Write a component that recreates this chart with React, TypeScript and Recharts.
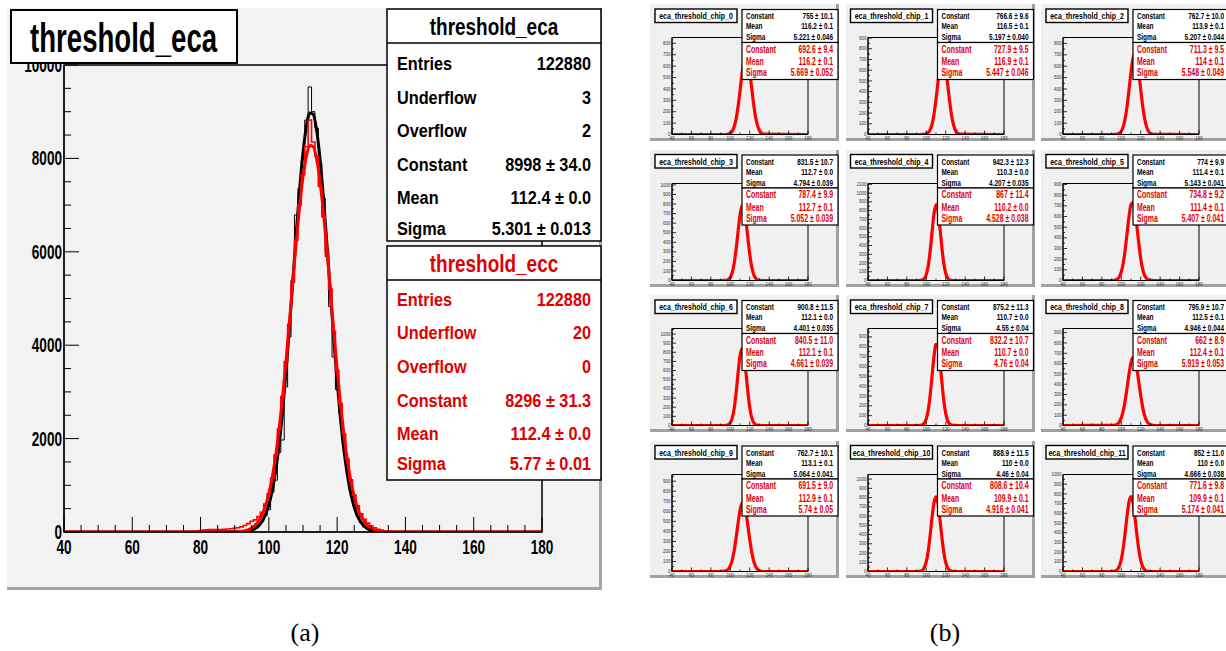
import React from "react";
import { LineChart, Line, XAxis, YAxis, ReferenceArea } from "recharts";

const FONT = "'Liberation Sans', Arial, Helvetica, sans-serif";
const RED = "#ff0000";
const RED_TEXT = "#e00000";

// ---------------- (a) threshold_eca / threshold_ecc ----------------
const HIST_X = [
  40,
  74, 75, 76, 77, 78, 79, 80, 81, 82, 83,
  84, 85, 86, 87, 88, 89, 90, 91, 92, 93,
  94, 95, 96, 97, 98, 99, 100, 101, 102, 103,
  104, 105, 106, 107, 108, 109, 110, 111, 112, 113,
  114, 115, 116, 117, 118, 119, 120, 121, 122, 123,
  124, 125, 126, 127, 128, 129, 130, 131, 132, 133,
  134, 135, 136, 137,
  180,
];
const ECA_COUNTS = [
  0,
  0, 0, 2, 4, 5, 8, 10, 12, 12, 15,
  15, 15, 18, 18, 20, 20, 22, 25, 28, 32,
  40, 55, 80, 140, 230, 350, 480, 850, 1110, 1700,
  1970, 3110, 4180, 5400, 6790, 7350, 7970, 8820, 9530, 9000,
  8650, 7900, 7150, 5900, 4830, 3750, 3050, 2540, 1900, 1330,
  900, 560, 340, 200, 110, 60, 30, 15, 8, 4,
  2, 0, 0, 0,
  0,
];
const ECC_COUNTS = [
  0,
  0, 5, 8, 10, 15, 20, 30, 40, 45, 50,
  55, 50, 55, 60, 65, 70, 80, 90, 110, 140,
  180, 230, 260, 330, 420, 600, 820, 1150, 1650, 2200,
  2900, 3650, 4450, 5350, 6250, 7000, 7650, 8250, 8820, 8350,
  8050, 7400, 6750, 6000, 5200, 4300, 3450, 2750, 2100, 1560,
  1120, 790, 560, 390, 270, 190, 130, 90, 60, 40,
  25, 15, 8, 0,
  0,
];
const FIT_X = [
  40, 86, 88, 90, 92, 93,
  94, 95, 96, 97, 98, 99, 100, 101, 102, 103,
  104, 105, 106, 107, 108, 109, 110, 111, 112, 113,
  114, 115, 116, 117, 118, 119, 120, 121, 122, 123,
  124, 125, 126, 127, 128, 129, 130, 131, 132, 133,
  134, 136, 138, 180,
];
const ECA_FIT = [
  0, 0, 0, 1, 5, 11,
  22, 41, 75, 132, 225, 369, 583, 891, 1313, 1868,
  2564, 3396, 4342, 5356, 6376, 7325, 8122, 8690, 8972, 8941,
  8598, 7979, 7146, 6175, 5150, 4145, 3220, 2413, 1746, 1218,
  821, 534, 335, 203, 119, 67, 36, 19, 10, 5,
  2, 0, 0, 0,
];
const ECC_FIT = [
  0, 0, 1, 4, 16, 29,
  51, 88, 146, 236, 368, 559, 824, 1178, 1634, 2201,
  2875, 3645, 4485, 5354, 6203, 6974, 7608, 8055, 8276, 8251,
  7983, 7495, 6829, 6037, 5180, 4313, 3484, 2732, 2079, 1535,
  1099, 764, 516, 338, 215, 132, 79, 46, 26, 14,
  7, 2, 0, 0,
];
const MAIN_X_TICKS = [
  40, 45, 50, 55, 60, 65, 70, 75, 80, 85, 90, 95, 100, 105, 110, 115, 120,
  125, 130, 135, 140, 145, 150, 155, 160, 165, 170, 175, 180,
];
const MAIN_Y_TICKS = [
  0, 500, 1000, 1500, 2000, 2500, 3000, 3500, 4000, 4500, 5000, 5500, 6000,
  6500, 7000, 7500, 8000, 8500, 9000, 9500, 10000,
];
const ECA_LABELS = ["Entries", "Underflow", "Overflow", "Constant", "Mean", "Sigma"];
const ECA_VALUES = ["122880", "3", "2", "8998 \u00b1 34.0", "112.4 \u00b1 0.0", "5.301 \u00b1 0.013"];
const ECC_VALUES = ["122880", "20", "0", "8296 \u00b1 31.3", "112.4 \u00b1 0.0", "5.77 \u00b1 0.01"];

// ---------------- (b) per-chip ----------------
const CHIP_NAMES = [
  "eca_threshold_chip_0", "eca_threshold_chip_1", "eca_threshold_chip_2",
  "eca_threshold_chip_3", "eca_threshold_chip_4", "eca_threshold_chip_5",
  "eca_threshold_chip_6", "eca_threshold_chip_7", "eca_threshold_chip_8",
  "eca_threshold_chip_9", "eca_threshold_chip_10", "eca_threshold_chip_11",
];
const SMALL_X = [40, 90, 94, 97, 100, 102, 104, 106, 108, 110, 112, 114, 116, 118, 120, 122, 124, 126, 128, 131, 135, 180];
const CHIP_ECC_FIT = [
  [0, 0, 0, 2, 12, 30, 68, 137, 243, 381, 527, 642, 692, 659, 553, 410, 269, 155, 79, 23, 3, 0],
  [0, 0, 0, 1, 6, 17, 44, 98, 192, 326, 486, 632, 718, 713, 619, 470, 311, 180, 91, 26, 3, 0],
  [0, 0, 1, 7, 29, 69, 140, 251, 396, 548, 666, 711, 666, 548, 396, 251, 140, 69, 29, 7, 1, 0],
  [0, 0, 1, 6, 33, 84, 179, 327, 511, 683, 780, 762, 636, 454, 277, 145, 65, 25, 8, 1, 0, 0],
  [0, 0, 1, 12, 69, 168, 340, 564, 771, 866, 801, 610, 382, 197, 83, 29, 8, 2, 0, 0, 0, 0],
  [0, 0, 4, 21, 80, 162, 288, 446, 603, 711, 730, 655, 512, 349, 207, 107, 49, 19, 7, 1, 0, 0],
  [0, 0, 0, 4, 29, 80, 186, 357, 571, 759, 840, 773, 592, 377, 200, 88, 32, 10, 3, 0, 0, 0],
  [0, 0, 2, 13, 67, 157, 309, 511, 708, 823, 802, 654, 448, 257, 123, 50, 17, 5, 1, 0, 0, 0],
  [0, 1, 5, 22, 74, 141, 242, 369, 502, 610, 660, 638, 550, 423, 290, 178, 97, 47, 21, 5, 0, 0],
  [0, 0, 3, 15, 55, 114, 208, 336, 480, 608, 683, 679, 598, 466, 322, 197, 107, 51, 22, 5, 0, 0],
  [0, 0, 4, 26, 106, 222, 394, 590, 750, 808, 738, 571, 374, 208, 98, 39, 13, 4, 1, 0, 0, 0],
  [0, 0, 7, 34, 124, 241, 403, 581, 721, 771, 711, 564, 385, 227, 115, 50, 19, 6, 2, 0, 0, 0],
];
const CHIP_YMAX = [851, 905, 852, 1015, 1110, 910, 1060, 985, 940, 967, 1050, 1000];
const SMALL_X_TICKS = [40, 50, 60, 70, 80, 90, 100, 110, 120, 130, 140, 150, 160, 170, 180];
const SMALL_Y_TICKS = [
  0, 50, 100, 150, 200, 250, 300, 350, 400, 450, 500, 550, 600, 650, 700, 750,
  800, 850, 900, 950, 1000, 1050, 1100, 1150,
];
const CHIP_ECA_CONST = ["755 \u00b1 10.1", "766.6 \u00b1 9.6", "762.7 \u00b1 10.0", "831.5 \u00b1 10.7", "942.3 \u00b1 12.3", "774 \u00b1 9.9", "900.8 \u00b1 11.5", "875.2 \u00b1 11.3", "795.9 \u00b1 10.7", "762.7 \u00b1 10.1", "888.9 \u00b1 11.5", "852 \u00b1 11.0"];
const CHIP_ECA_MEAN = ["116.2 \u00b1 0.1", "116.5 \u00b1 0.1", "113.9 \u00b1 0.1", "112.7 \u00b1 0.0", "110.3 \u00b1 0.0", "111.4 \u00b1 0.1", "112.1 \u00b1 0.0", "110.7 \u00b1 0.0", "112.5 \u00b1 0.1", "113.1 \u00b1 0.1", "110 \u00b1 0.0", "110 \u00b1 0.0"];
const CHIP_ECA_SIGMA = ["5.221 \u00b1 0.046", "5.197 \u00b1 0.040", "5.207 \u00b1 0.044", "4.794 \u00b1 0.039", "4.207 \u00b1 0.035", "5.143 \u00b1 0.041", "4.401 \u00b1 0.035", "4.55 \u00b1 0.04", "4.946 \u00b1 0.044", "5.064 \u00b1 0.041", "4.46 \u00b1 0.04", "4.666 \u00b1 0.038"];
const CHIP_ECC_CONST = ["692.6 \u00b1 9.4", "727.9 \u00b1 9.5", "711.3 \u00b1 9.5", "787.4 \u00b1 9.9", "867 \u00b1 11.4", "734.8 \u00b1 9.2", "840.5 \u00b1 11.0", "832.2 \u00b1 10.7", "662 \u00b1 8.9", "691.5 \u00b1 9.0", "808.6 \u00b1 10.4", "771.6 \u00b1 9.8"];
const CHIP_ECC_MEAN = ["116.2 \u00b1 0.1", "116.9 \u00b1 0.1", "114 \u00b1 0.1", "112.7 \u00b1 0.1", "110.2 \u00b1 0.0", "111.4 \u00b1 0.1", "112.1 \u00b1 0.1", "110.7 \u00b1 0.0", "112.4 \u00b1 0.1", "112.9 \u00b1 0.1", "109.9 \u00b1 0.1", "109.9 \u00b1 0.1"];
const CHIP_ECC_SIGMA = ["5.669 \u00b1 0.052", "5.447 \u00b1 0.046", "5.548 \u00b1 0.049", "5.052 \u00b1 0.039", "4.528 \u00b1 0.038", "5.407 \u00b1 0.041", "4.661 \u00b1 0.039", "4.76 \u00b1 0.04", "5.919 \u00b1 0.053", "5.74 \u00b1 0.05", "4.916 \u00b1 0.041", "5.174 \u00b1 0.041"];

const toSeries = (xs: number[], ys: number[]) => xs.map((x, i) => ({ x, y: ys[i] }));

// ---------------- ticks ----------------
const MainXTick = (props: any) => {
  const { x, y, payload } = props;
  const v = payload.value;
  const major = v % 20 === 0;
  return (
    <g>
      <line x1={x} x2={x} y1={y} y2={y - (major ? 15 : 7)} stroke="#000" strokeWidth={1} />
      {major && (
        <text transform={`translate(${x},${y + 21.5}) scale(0.68,1)`} textAnchor="middle" fontSize={20} fontWeight="bold" fontFamily={FONT} fill="#000">
          {v}
        </text>
      )}
    </g>
  );
};
const MainYTick = (props: any) => {
  const { x, y, payload } = props;
  const v = payload.value;
  const major = v % 2000 === 0;
  return (
    <g>
      <line x1={x} x2={x + (major ? 15 : 7)} y1={y} y2={y} stroke="#000" strokeWidth={1} />
      {major && (
        <text transform={`translate(${x - 2},${y + 7}) scale(0.68,1)`} textAnchor="end" fontSize={20} fontWeight="bold" fontFamily={FONT} fill="#000">
          {v}
        </text>
      )}
    </g>
  );
};
const SmallXTick = (props: any) => {
  const { x, y, payload } = props;
  const v = payload.value;
  const major = v % 20 === 0;
  return (
    <g>
      <line x1={x} x2={x} y1={y} y2={y - (major ? 4 : 2)} stroke="#000" strokeWidth={0.8} />
      {major && (
        <text x={x} y={y + 5.5} textAnchor="middle" fontSize={4.5} fontFamily={FONT} fill="#333">
          {v}
        </text>
      )}
    </g>
  );
};
const SmallYTick = (props: any) => {
  const { x, y, payload } = props;
  const v = payload.value;
  const major = v % 100 === 0;
  return (
    <g>
      <line x1={x} x2={x + (major ? 4 : 2)} y1={y} y2={y} stroke="#000" strokeWidth={0.8} />
      {major && (
        <text x={x - 1.5} y={y + 1.6} textAnchor="end" fontSize={4.5} fontFamily={FONT} fill="#333">
          {v}
        </text>
      )}
    </g>
  );
};

// ---------------- small panel geometry ----------------
const PANEL_X0 = 650;
const PANEL_Y0 = 4;
const PANEL_DX = 195.5;
const PANEL_DY = 145.5;
const PANEL_W = 186;
const PANEL_H = 134;

function SmallChart({ i }: { i: number }) {
  const c = i % 3;
  const r = Math.floor(i / 3);
  const px = PANEL_X0 + c * PANEL_DX;
  const py = PANEL_Y0 + r * PANEL_DY;
  const ymax = CHIP_YMAX[i];
  const yt = SMALL_Y_TICKS.filter((t) => t <= ymax);
  return (
    <>
      <div
        style={{
          position: "absolute",
          left: px,
          top: py,
          width: PANEL_W,
          height: PANEL_H,
          background: "#f0f0f0",
          borderRight: "3px solid #a0a0a0",
          borderBottom: "3px solid #a0a0a0",
        }}
      />
      <div style={{ position: "absolute", left: px, top: py }}>
        <LineChart width={186} height={140} margin={{ top: 33.5, left: 0, right: 28, bottom: 0 }}>
          <XAxis
            type="number"
            dataKey="x"
            domain={[40, 180]}
            ticks={SMALL_X_TICKS}
            interval={0}
            height={9.5}
            tickSize={0}
            tickMargin={0}
            tick={<SmallXTick />}
            axisLine={{ stroke: "#000", strokeWidth: 1 }}
            tickLine={false}
            allowDataOverflow
          />
          <YAxis
            type="number"
            domain={[0, ymax]}
            ticks={yt}
            interval={0}
            width={22}
            tickSize={0}
            tickMargin={0}
            tick={<SmallYTick />}
            axisLine={{ stroke: "#000", strokeWidth: 1 }}
            tickLine={false}
            allowDataOverflow
          />
          <ReferenceArea x1={40} x2={180} y1={0} y2={ymax} fill="none" stroke="#000" strokeWidth={1} fillOpacity={0} />
          <Line
            data={toSeries(SMALL_X, CHIP_ECC_FIT[i])}
            dataKey="y"
            type="monotone"
            stroke={RED}
            strokeWidth={3.2}
            dot={false}
            isAnimationActive={false}
          />
        </LineChart>
      </div>
    </>
  );
}

function SmallOverlay({ i }: { i: number }) {
  const c = i % 3;
  const r = Math.floor(i / 3);
  const px = PANEL_X0 + c * PANEL_DX;
  const py = PANEL_Y0 + r * PANEL_DY;
  const blackRows: [string, string][] = [
    ["Constant", CHIP_ECA_CONST[i]],
    ["Mean", CHIP_ECA_MEAN[i]],
    ["Sigma", CHIP_ECA_SIGMA[i]],
  ];
  const redRows: [string, string][] = [
    ["Constant", CHIP_ECC_CONST[i]],
    ["Mean", CHIP_ECC_MEAN[i]],
    ["Sigma", CHIP_ECC_SIGMA[i]],
  ];
  const bBase = [15.3, 25.3, 36.3];
  const rBase = [48.7, 61.4, 72.2];
  return (
    <g transform={`translate(${px},${py})`}>
      <rect x={5} y={5} width={82} height={13.5} fill="#fff" stroke="#000" strokeWidth={1.4} />
      <text transform={`translate(46,15) scale(0.78,1)`} textAnchor="middle" fontSize={9} fontWeight="bold" fontFamily={FONT} fill="#000">
        {CHIP_NAMES[i]}
      </text>
      <rect x={92} y={5.5} width={96} height={33} fill="#fff" stroke="#000" strokeWidth={1.2} />
      {blackRows.map(([l, v], k) => (
        <g key={"b" + k}>
          <text transform={`translate(96,${bBase[k]}) scale(0.68,1)`} fontSize={9.5} fontWeight="bold" fontFamily={FONT} fill="#000">
            {l}
          </text>
          <text transform={`translate(183,${bBase[k]}) scale(0.68,1)`} textAnchor="end" fontSize={9.5} fontWeight="bold" fontFamily={FONT} fill="#000">
            {v}
          </text>
        </g>
      ))}
      <rect x={92} y={38.5} width={96} height={37} fill="#fff" stroke="#000" strokeWidth={1.2} />
      {redRows.map(([l, v], k) => (
        <g key={"r" + k}>
          <text transform={`translate(96,${rBase[k]}) scale(0.66,1)`} fontSize={10.5} fontWeight="bold" fontFamily={FONT} fill={RED_TEXT}>
            {l}
          </text>
          <text transform={`translate(183,${rBase[k]}) scale(0.66,1)`} textAnchor="end" fontSize={10.5} fontWeight="bold" fontFamily={FONT} fill={RED_TEXT}>
            {v}
          </text>
        </g>
      ))}
    </g>
  );
}

export default function App() {
  const ecaHist = toSeries(HIST_X, ECA_COUNTS);
  const eccHist = toSeries(HIST_X, ECC_COUNTS);
  const ecaFit = toSeries(FIT_X, ECA_FIT);
  const eccFit = toSeries(FIT_X, ECC_FIT);
  const rowBase1 = [70, 103.5, 137, 170.5, 204, 235];
  const rowBase2 = [305.5, 339, 372.5, 406.5, 439.5, 470];
  const chips = CHIP_NAMES.map((_, i) => i);

  return (
    <div style={{ position: "absolute", left: 0, top: 0, width: 1226, height: 651, background: "#fff", overflow: "hidden" }}>
      {/* panel (a) background */}
      <div
        style={{
          position: "absolute",
          left: 7,
          top: 8,
          width: 592,
          height: 579,
          background: "#f2f2f2",
          borderRight: "3px solid #a5a5a5",
          borderBottom: "3px solid #a5a5a5",
        }}
      />
      <div style={{ position: "absolute", left: 0, top: 0 }}>
        <LineChart width={620} height={600} margin={{ top: 65, right: 78, bottom: 0, left: 0 }}>
          <XAxis
            type="number"
            dataKey="x"
            domain={[40, 180]}
            ticks={MAIN_X_TICKS}
            interval={0}
            height={68}
            tickSize={0}
            tickMargin={0}
            tick={<MainXTick />}
            axisLine={{ stroke: "#000", strokeWidth: 1 }}
            tickLine={false}
            allowDataOverflow
          />
          <YAxis
            type="number"
            domain={[0, 10000]}
            ticks={MAIN_Y_TICKS}
            interval={0}
            width={64}
            tickSize={0}
            tickMargin={0}
            tick={<MainYTick />}
            axisLine={{ stroke: "#000", strokeWidth: 1 }}
            tickLine={false}
            allowDataOverflow
          />
          <ReferenceArea x1={40} x2={180} y1={0} y2={10000} fill="none" fillOpacity={0} stroke="#000" strokeWidth={1.5} />
          <Line data={ecaHist} dataKey="y" type="step" stroke="#000" strokeWidth={1} dot={false} isAnimationActive={false} />
          <Line data={ecaFit} dataKey="y" type="monotone" stroke="#000" strokeWidth={3} dot={false} isAnimationActive={false} />
          <Line data={eccHist} dataKey="y" type="step" stroke={RED} strokeWidth={1.6} dot={false} isAnimationActive={false} />
          <Line data={eccFit} dataKey="y" type="monotone" stroke={RED} strokeWidth={3} dot={false} isAnimationActive={false} />
        </LineChart>
      </div>

      {/* panel (b) */}
      {chips.map((i) => (
        <SmallChart key={i} i={i} />
      ))}

      {/* overlays */}
      <svg width={1226} height={651} style={{ position: "absolute", left: 0, top: 0 }}>
        {/* main title */}
        <rect x={11} y={10} width={226} height={53} fill="#fff" stroke="#000" strokeWidth={2} />
        <text transform="translate(30,51.5) scale(0.69,1)" fontSize={40} fontWeight="bold" fontFamily={FONT} fill="#000">
          threshold_eca
        </text>

        {/* stats box eca */}
        <rect x={387} y={9} width={214} height={232} fill="#fff" stroke="#000" strokeWidth={1.5} />
        <line x1={387} x2={601} y1={43} y2={43} stroke="#000" strokeWidth={1.5} />
        <text transform="translate(494,34.5) scale(0.79,1)" textAnchor="middle" fontSize={24} fontWeight="bold" fontFamily={FONT} fill="#000">
          threshold_eca
        </text>
        {ECA_LABELS.map((l, k) => (
          <g key={"eca" + k}>
            <text transform={`translate(397,${rowBase1[k]}) scale(0.88,1)`} fontSize={18.5} fontWeight="bold" fontFamily={FONT} fill="#000">
              {l}
            </text>
            <text transform={`translate(591,${rowBase1[k]}) scale(0.88,1)`} textAnchor="end" fontSize={18.5} fontWeight="bold" fontFamily={FONT} fill="#000">
              {ECA_VALUES[k]}
            </text>
          </g>
        ))}

        {/* stats box ecc */}
        <rect x={387} y={246} width={214} height={234} fill="#fff" stroke="#000" strokeWidth={1.5} />
        <line x1={387} x2={601} y1={280} y2={280} stroke="#000" strokeWidth={1.5} />
        <text transform="translate(494,271.5) scale(0.79,1)" textAnchor="middle" fontSize={24} fontWeight="bold" fontFamily={FONT} fill={RED_TEXT}>
          threshold_ecc
        </text>
        {ECA_LABELS.map((l, k) => (
          <g key={"ecc" + k}>
            <text transform={`translate(397,${rowBase2[k]}) scale(0.88,1)`} fontSize={18.5} fontWeight="bold" fontFamily={FONT} fill={RED_TEXT}>
              {l}
            </text>
            <text transform={`translate(591,${rowBase2[k]}) scale(0.88,1)`} textAnchor="end" fontSize={18.5} fontWeight="bold" fontFamily={FONT} fill={RED_TEXT}>
              {ECC_VALUES[k]}
            </text>
          </g>
        ))}

        {chips.map((i) => (
          <SmallOverlay key={"o" + i} i={i} />
        ))}

        <text x={305} y={641} textAnchor="middle" fontSize={26} fontFamily="'Liberation Serif', 'DejaVu Serif', serif" fill="#000">
          (a)
        </text>
        <text x={945} y={641} textAnchor="middle" fontSize={26} fontFamily="'Liberation Serif', 'DejaVu Serif', serif" fill="#000">
          (b)
        </text>
      </svg>
    </div>
  );
}
